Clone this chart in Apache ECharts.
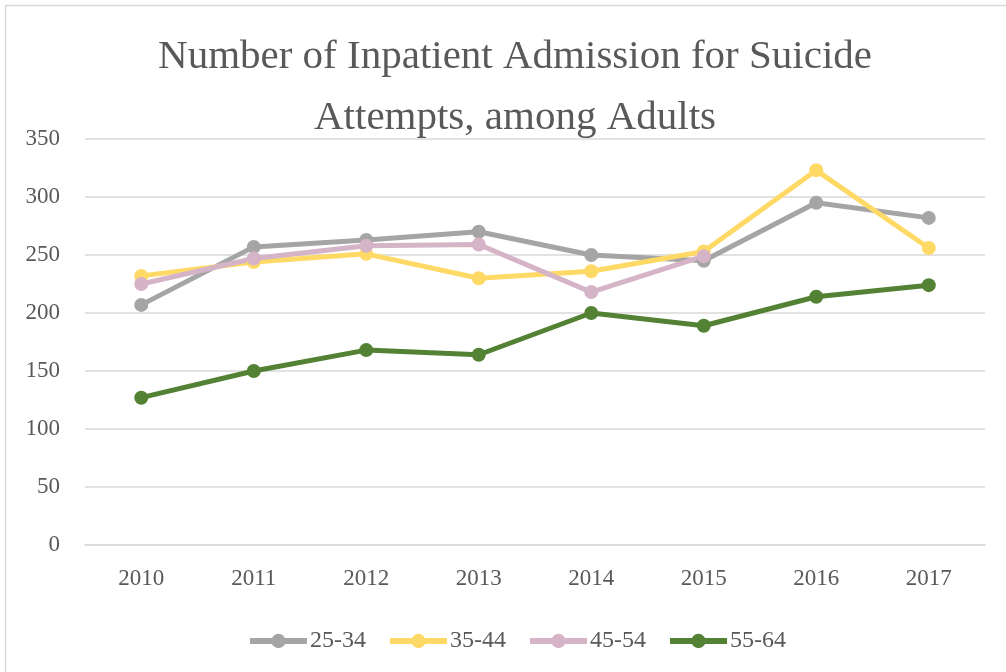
<!DOCTYPE html>
<html>
<head>
<meta charset="utf-8">
<script src="https://cdn.jsdelivr.net/npm/echarts@6/dist/echarts.min.js"></script>
<style>
html,body{margin:0;padding:0;background:#fff;}
#chart{width:1006px;height:672px;}
</style>
</head>
<body>
<div id="chart"></div>
<script>
var titleText = 'Number of Inpatient Admission for Suicide\nAttempts, among Adults';
var years = ['2010','2011','2012','2013','2014','2015','2016','2017'];
var seriesNames = ['25-34','35-44','45-54','55-64'];
var age25_34 = [207, 257, 263, 270, 250, 245, 295, 282];
var age35_44 = [232, 244, 251, 230, 236, 253, 323, 256];
var age45_54 = [225, 247, 258, 259, 218, 249, null, null];
var age55_64 = [127, 150, 168, 164, 200, 189, 214, 224];
var yTicks = {min: 0, max: 350, interval: 50};
var colors = ['#A5A5A5', '#FFD966', '#D5B4C7', '#548235'];

var font = '"Liberation Serif", "DejaVu Serif", serif';
var chart = echarts.init(document.getElementById('chart'), null, {renderer: 'canvas'});

function mk(name, data, color) {
  return {
    name: name, type: 'line', data: data,
    symbol: 'circle', symbolSize: 14,
    lineStyle: {width: 5, color: color},
    itemStyle: {color: color},
    connectNulls: false,
    animation: false
  };
}

chart.setOption({
  animation: false,
  color: colors,
  graphic: [{
    type: 'rect', silent: true,
    shape: {x: 5.5, y: 5.5, width: 1010, height: 690},
    style: {fill: null, stroke: '#d9d9d9', lineWidth: 1.5}
  }],
  title: {
    text: titleText,
    left: 510, top: 22, textAlign: 'center',
    textStyle: {fontFamily: font, fontSize: 41, fontWeight: 'normal', color: '#595959', lineHeight: 61}
  },
  grid: {left: 85, right: 21, top: 139, bottom: 127, containLabel: false},
  legend: {
    data: seriesNames,
    left: 242, top: 624, padding: 5,
    itemWidth: 57, itemHeight: 18, itemGap: 21,
    lineStyle: {width: 6},
    textStyle: {fontFamily: font, fontSize: 24, color: '#595959', padding: [0,0,0,-2]}
  },
  xAxis: {
    type: 'category', data: years, boundaryGap: true,
    axisLine: {show: true, lineStyle: {color: '#d9d9d9', width: 1.5}},
    axisTick: {show: false},
    axisLabel: {fontFamily: font, fontSize: 23, color: '#595959', margin: 22}
  },
  yAxis: {
    type: 'value', min: yTicks.min, max: yTicks.max, interval: yTicks.interval,
    axisLine: {show: false}, axisTick: {show: false},
    splitLine: {lineStyle: {color: '#d9d9d9', width: 1.5}},
    axisLabel: {fontFamily: font, fontSize: 23, color: '#595959', margin: 25}
  },
  series: [
    mk(seriesNames[0], age25_34, colors[0]),
    mk(seriesNames[1], age35_44, colors[1]),
    mk(seriesNames[2], age45_54, colors[2]),
    mk(seriesNames[3], age55_64, colors[3])
  ]
});
</script>
</body>
</html>
